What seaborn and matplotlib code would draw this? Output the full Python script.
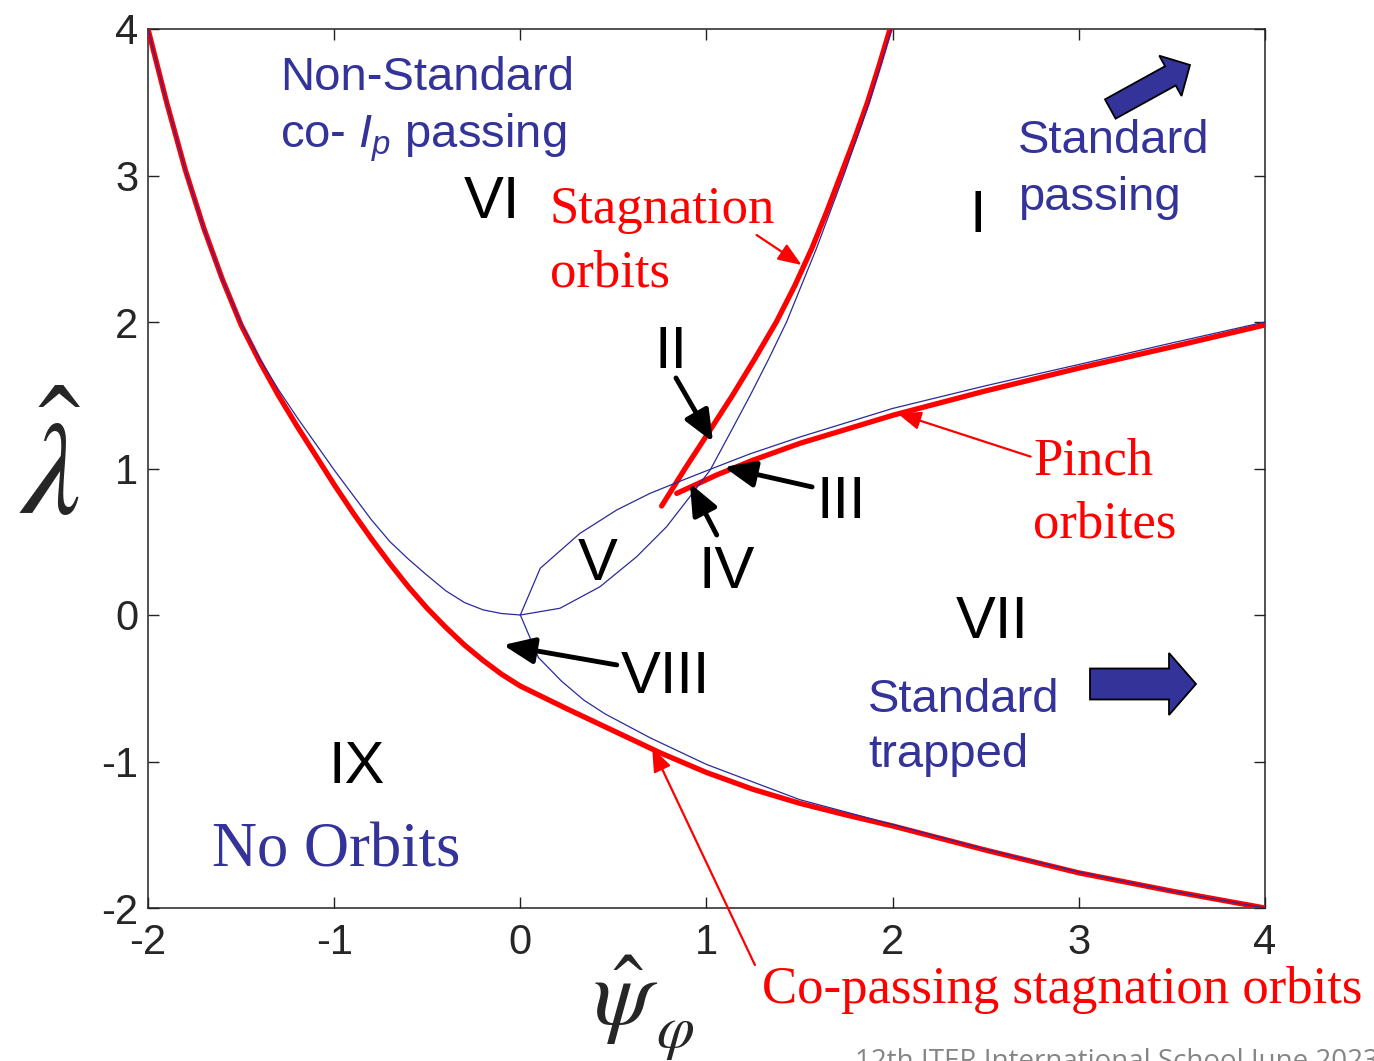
import numpy as np
import pandas as pd
import matplotlib
matplotlib.use("Agg")
import matplotlib.pyplot as plt
import seaborn as sns
from matplotlib.patches import FancyArrow
from matplotlib import font_manager

# ---------------- data ----------------
red_main_x = [-2.0, -1.9, -1.8, -1.7, -1.6, -1.5, -1.4, -1.3, -1.2, -1.1, -1.0, -0.9, -0.8,
              -0.7, -0.6, -0.5, -0.4, -0.3, -0.2, -0.1, 0.0, 0.25, 0.5, 0.75, 1.0, 1.25,
              1.5, 1.75, 2.0, 2.5, 3.0, 3.5, 4.0]
red_main_y = [4.0, 3.50, 3.04, 2.64, 2.29, 1.98, 1.73, 1.50, 1.29, 1.09, 0.89, 0.70, 0.52,
              0.35, 0.19, 0.045, -0.085, -0.205, -0.31, -0.405, -0.485, -0.64, -0.79, -0.94, -1.075, -1.19,
              -1.285, -1.365, -1.44, -1.605, -1.76, -1.885, -2.0]

red_stag_x = [0.759, 0.885, 1.013, 1.14, 1.26, 1.375, 1.475, 1.565, 1.645, 1.72, 1.795, 1.865, 1.927, 1.986]
red_stag_y = [0.744, 1.0, 1.25, 1.5, 1.75, 2.0, 2.25, 2.5, 2.75, 3.0, 3.25, 3.5, 3.75, 4.0]

red_pinch_x = [0.84, 1.055, 1.25, 1.502, 2.005, 2.5, 3.0, 3.5, 4.0]
red_pinch_y = [0.83, 0.956, 1.057, 1.172, 1.365, 1.53, 1.685, 1.83, 1.98]

blue_left_x = [-2.0, -1.9, -1.8, -1.7, -1.6, -1.5, -1.4, -1.3, -1.2, -1.1, -1.0, -0.9,
               -0.8, -0.7, -0.6, -0.5, -0.4, -0.3, -0.2, -0.1, 0.0]
blue_left_y = [4.0, 3.50, 3.04, 2.64, 2.29, 1.99, 1.75, 1.54, 1.35, 1.17, 0.99, 0.82,
               0.65, 0.50, 0.38, 0.27, 0.165, 0.085, 0.035, 0.01, 0.0]

blue_pinch_x = [0.0, 0.107, 0.32, 0.518, 0.696, 0.875, 1.055, 1.234, 1.502, 2.0, 2.5, 3.0, 3.5, 4.0]
blue_pinch_y = [0.0, 0.319, 0.557, 0.717, 0.83, 0.922, 1.012, 1.10, 1.215, 1.41, 1.565, 1.71, 1.857, 2.0]

blue_stag_x = [0.0, 0.213, 0.428, 0.625, 0.786, 0.911, 1.02, 1.13, 1.235, 1.335, 1.43, 1.59, 1.737, 1.875, 1.995]
blue_stag_y = [0.0, 0.046, 0.193, 0.398, 0.603, 0.808, 0.99, 1.25, 1.5, 1.75, 2.0, 2.5, 3.0, 3.5, 4.0]

blue_low_x = [0.0, 0.097, 0.22, 0.34, 0.455, 0.70, 1.0, 1.5, 2.0, 2.5, 3.0, 3.5, 4.0]
blue_low_y = [0.0, -0.29, -0.45, -0.58, -0.675, -0.84, -1.02, -1.26, -1.43, -1.60, -1.755, -1.885, -2.0]

x_ticks = [-2, -1, 0, 1, 2, 3, 4]
y_ticks = [-2, -1, 0, 1, 2, 3, 4]

region_labels = ["VI", "I", "II", "III", "IV", "V", "VIII", "VII", "IX"]
region_x = [-0.152, 2.458, 0.809, 1.722, 1.110, 0.417, 0.777, 2.533, -0.877]
region_y = [2.710, 2.614, 1.686, 0.662, 0.184, 0.239, -0.532, -0.157, -1.147]

# ---------------- style ----------------
sns.set_style("ticks")
names = {f.name for f in font_manager.fontManager.ttflist}
narrow = 'Liberation Sans Narrow' if 'Liberation Sans Narrow' in names else 'Liberation Sans'
plt.rcParams['font.family'] = ['Liberation Sans', 'DejaVu Sans']
plt.rcParams['axes.unicode_minus'] = False
plt.rcParams['mathtext.fontset'] = 'custom'
plt.rcParams['mathtext.rm'] = 'Liberation Sans'
plt.rcParams['mathtext.it'] = 'Liberation Sans:italic'

RED = '#ff0000'
BLUE_LINE = '#2a2a9c'
BLUE_TXT = '#333399'

fig = plt.figure(figsize=(13.74, 10.61), dpi=100)
fig.patch.set_facecolor('white')
ax = fig.add_axes([148/1374, 1-908/1061, (1265-148)/1374, (908-29)/1061])

def curve(xs, ys, color, lw, z):
    df = pd.DataFrame({'x': xs, 'y': ys})
    sns.lineplot(data=df, x='x', y='y', sort=False, estimator=None, color=color,
                 lw=lw, ax=ax, zorder=z, legend=False)

for xs, ys in [(red_main_x, red_main_y), (red_stag_x, red_stag_y), (red_pinch_x, red_pinch_y)]:
    curve(xs, ys, RED, 3.8, 3)
for xs, ys in [(blue_left_x, blue_left_y), (blue_pinch_x, blue_pinch_y),
               (blue_stag_x, blue_stag_y), (blue_low_x, blue_low_y)]:
    curve(xs, ys, BLUE_LINE, 0.9, 4)

ax.set_xlim(-2, 4)
ax.set_ylim(-2, 4)
ax.set_xticks(x_ticks)
ax.set_yticks(y_ticks)
ax.set_xlabel('')
ax.set_ylabel('')
for s in ax.spines.values():
    s.set_visible(True)
    s.set_linewidth(1.1)
    s.set_color('#222222')
ax.tick_params(direction='in', length=8, width=1.0, top=True, right=True, color='#222222')
ax.tick_params(axis='x', pad=11)
ax.tick_params(axis='y', pad=7)
tick_fs = 33 if narrow != 'Liberation Sans' else 30
for lab in ax.get_xticklabels() + ax.get_yticklabels():
    lab.set_fontfamily(narrow)
    lab.set_fontsize(tick_fs)

# region numerals
num_fs = 46 if narrow != 'Liberation Sans' else 43
for t, x, y in zip(region_labels, region_x, region_y):
    ax.text(x, y, t, ha='center', va='baseline', fontsize=num_fs, family=narrow, color='black', zorder=6)

# black arrows
blk = dict(arrowstyle='-|>,head_length=0.9,head_width=0.38', lw=3.5, color='black',
           shrinkA=0, shrinkB=0, mutation_scale=21)
for tail, head in [((0.836, 1.618), (1.035, 1.181)),
                   ((1.567, 0.874), (1.094, 1.010)),
                   ((1.055, 0.546), (0.911, 0.899)),
                   ((0.518, -0.341), (-0.092, -0.205))]:
    ax.annotate('', xy=head, xytext=tail, arrowprops=blk, zorder=7)

# red arrows
rda = dict(arrowstyle='-|>,head_length=0.9,head_width=0.35', lw=1.6, color=RED,
           shrinkA=0, shrinkB=0, mutation_scale=16)
for tail, head in [((1.269, 2.594), (1.511, 2.389)),
                   ((2.741, 1.081), (2.025, 1.377)),
                   ((1.260, -2.389), (0.708, -0.907))]:
    ax.annotate('', xy=head, xytext=tail, arrowprops=rda, zorder=7, annotation_clip=False)

# red serif texts
serif = ['Liberation Serif', 'DejaVu Serif']
red_fs = 38
ax.text(0.159, 2.676, 'Stagnation', family=serif, fontsize=red_fs, color=RED, va='baseline')
ax.text(0.159, 2.239, 'orbits', family=serif, fontsize=red_fs, color=RED, va='baseline')
ax.text(2.754, 0.956, 'Pinch', family=serif, fontsize=red_fs, color=RED, va='baseline')
ax.text(2.754, 0.526, 'orbites', family=serif, fontsize=red_fs, color=RED, va='baseline')
ax.text(1.298, -2.648, 'Co-passing stagnation orbits', family=serif, fontsize=red_fs,
        color=RED, va='baseline', clip_on=False)

# blue texts
blue_fs = 34
ax.text(-1.291, 3.584, 'Non-Standard', fontsize=blue_fs, color=BLUE_TXT, va='baseline')
ax.text(-1.291, 3.188, 'co- $I_p$ passing', fontsize=blue_fs, color=BLUE_TXT, va='baseline',
        math_fontfamily='custom')
ax.text(2.673, 3.154, 'Standard', fontsize=blue_fs, color=BLUE_TXT, va='baseline')
ax.text(2.673, 2.764, 'passing', fontsize=blue_fs, color=BLUE_TXT, va='baseline')
ax.text(1.867, -0.662, 'Standard', fontsize=blue_fs, color=BLUE_TXT, va='baseline')
ax.text(1.867, -1.038, 'trapped', fontsize=blue_fs, color=BLUE_TXT, va='baseline')
ax.text(-1.656, -1.720, 'No Orbits', family=serif, fontsize=45, color=BLUE_TXT, va='baseline')

# fat blue arrows (inch coordinates)
fig.add_artist(FancyArrow(10.90, 3.77, 1.06, 0.0, width=0.31, head_width=0.62, head_length=0.27,
                          length_includes_head=True, transform=fig.dpi_scale_trans,
                          facecolor=BLUE_TXT, edgecolor='black', lw=1.3))
fig.add_artist(FancyArrow(11.103, 9.52, 0.797, 0.44, width=0.22, head_width=0.46, head_length=0.224,
                          length_includes_head=True, transform=fig.dpi_scale_trans,
                          facecolor=BLUE_TXT, edgecolor='black', lw=1.3))

# axis labels
fig.text(50/1374, 1-476/1061, r'$\hat{\lambda}$', fontsize=96, ha='center', va='center',
         math_fontfamily='stix')
fig.text(626/1374, 1-1000/1061, r'$\hat{\psi}$', fontsize=68, ha='center', va='center',
         math_fontfamily='stix')
fig.text(675/1374, 1-1033/1061, r'$\varphi$', fontsize=44, ha='center', va='center',
         math_fontfamily='stix')

# footer (cut at the bottom edge as in the reference)
fig.text(855/1374, -7/1061, '12th ITER International School June 2023', family=['Open Sans', 'DejaVu Sans'],
         fontsize=20, color='#858585', va='baseline', ha='left')

fig.savefig('out.png', dpi=100)
